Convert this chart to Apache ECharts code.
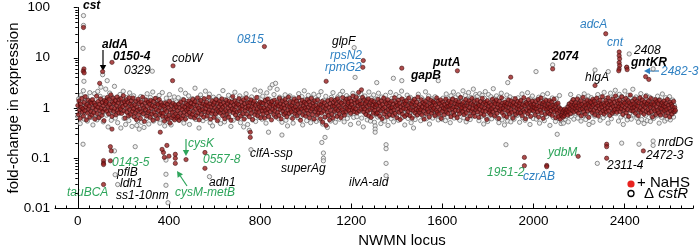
<!DOCTYPE html>
<html>
<head>
<meta charset="utf-8">
<script src="https://cdn.jsdelivr.net/npm/echarts@6/dist/echarts.min.js"></script>
<style>
html, body { margin: 0; padding: 0; background: #fff; }
#chart { width: 700px; height: 251px; }
</style>
</head>
<body>
<div id="chart"></div>
<script>
// band genes are listed in locus order: first locus and spacing
const nahsStart = 0
const nahsStep = 2.5
const cstrStart = 0
const cstrStep = 3.5

// + NaHS fold-change along the chromosome
const nahsBand = [
  1.12,0.74,1.38,0.91,0.62,1.21,1.03,1.55,0.83,0.97,0.69,1.29,0.88,1.68,1.06,0.58,1.17,0.79,1.44,0.95,1.09,0.66,1.33,0.86,1.24,
  0.72,1.47,1.01,0.81,1.26,0.6,1.14,0.93,1.72,0.77,1.05,1.36,0.64,1.19,0.89,1.52,0.99,0.71,1.28,0.84,1.11,0.56,1.41,0.94,1.23,
  1.35,0.87,1.62,1.08,0.76,1.49,1.18,0.92,1.83,1.02,0.68,1.31,1.57,0.85,1.22,0.98,1.4,0.73,1.12,1.66,0.9,1.27,0.8,1.45,1.04,
  0.96,1.53,0.78,1.25,1.07,1.76,0.88,1.34,0.63,1.15,1.46,0.82,1.01,1.29,0.7,1.6,0.93,1.2,0.75,1.39,1.1,0.86,1.58,0.97,0.67,
  1.16,0.8,1.37,0.59,1.04,0.9,1.5,0.73,1.23,0.95,0.62,1.32,0.84,1.13,1.64,0.77,1.0,0.54,1.26,0.92,1.43,0.69,1.08,0.81,1.3,
  0.87,1.19,0.65,1.42,0.99,0.76,1.11,0.57,1.35,0.83,1.06,1.55,0.71,0.94,1.22,0.61,1.17,0.89,1.47,0.74,1.02,1.28,0.8,1.14,0.68,
  0.79,1.08,0.55,0.93,1.27,0.66,0.85,1.18,0.6,1.03,0.72,1.36,0.5,0.91,1.12,0.64,0.82,1.24,0.7,0.97,0.58,1.15,0.77,1.05,0.63,
  0.88,0.68,1.2,0.57,1.01,0.78,1.32,0.62,0.94,1.1,0.7,1.45,0.83,1.04,0.6,1.23,0.9,0.74,1.16,0.96,1.38,0.81,1.07,0.67,1.26,
  1.03,0.75,1.48,0.86,1.19,0.63,1.34,0.95,0.71,1.12,1.59,0.8,1.0,0.58,1.27,0.89,1.41,0.73,1.09,0.92,1.21,0.66,1.53,0.84,1.14,
  0.97,1.31,0.69,1.1,0.82,1.63,0.91,1.2,0.6,1.05,0.78,1.39,0.87,1.16,0.65,1.29,1.02,0.76,1.47,0.93,0.56,1.24,0.85,1.07,1.35,
  0.79,1.18,0.94,1.52,0.7,1.04,1.27,0.83,0.61,1.13,0.9,1.43,0.74,1.22,0.99,0.66,1.36,0.86,1.09,0.57,1.3,0.96,1.69,0.8,1.15,
  0.92,1.4,0.72,1.06,1.25,0.84,0.62,1.17,1.54,0.88,1.02,0.69,1.33,0.95,1.11,0.77,1.46,0.6,1.21,0.89,1.03,1.58,0.75,1.28,0.98,
  1.1,0.67,1.3,0.91,1.45,0.8,1.07,0.59,1.23,0.97,1.37,0.73,1.14,0.86,1.62,0.95,0.7,1.19,0.83,1.05,1.32,0.64,1.0,1.26,0.88,
  0.76,1.24,1.01,0.63,1.41,0.9,1.16,0.79,1.51,0.96,0.68,1.29,1.08,0.85,1.2,0.58,1.35,0.93,1.12,0.74,1.44,0.87,1.04,0.66,1.18,
  1.31,0.82,1.09,0.71,1.56,0.94,1.22,0.61,1.03,1.38,0.86,1.15,0.75,0.99,1.48,0.8,1.27,0.67,1.11,0.9,1.65,0.78,1.06,1.34,0.92,
  0.84,1.13,0.62,1.28,0.98,1.5,0.77,1.06,0.89,1.36,0.7,1.19,0.93,1.6,0.81,1.02,0.57,1.25,0.96,1.42,0.73,1.1,0.87,1.3,1.0,
  0.69,1.21,0.91,1.47,0.78,1.04,1.33,0.64,1.15,0.88,1.55,0.97,0.74,1.26,1.07,0.6,1.39,0.85,1.12,0.95,0.72,1.44,1.01,0.8,1.18,
  0.93,0.61,1.16,0.79,1.35,0.52,1.05,0.87,1.27,0.66,0.98,0.45,1.13,0.82,1.4,0.71,1.02,0.58,1.22,0.9,1.48,0.75,1.09,0.63,1.3,
  1.07,0.86,1.42,0.95,1.2,0.68,1.53,0.89,1.11,0.77,1.34,1.0,0.64,1.25,0.92,1.61,0.81,1.14,0.72,1.37,1.03,0.85,1.5,0.96,1.19,
  1.28,0.9,1.55,1.06,0.78,1.37,1.16,0.93,1.74,1.02,0.84,1.44,1.24,0.97,1.63,0.8,1.31,1.1,2.05,0.88,1.4,1.18,0.95,2.3,1.21,
  1.62,1.04,0.83,1.45,0.96,1.23,0.74,1.35,1.08,0.87,1.52,0.7,1.15,0.92,1.29,0.65,1.41,0.99,1.12,0.79,1.33,0.9,1.06,1.2,0.76,
  1.14,0.8,1.49,0.94,1.27,0.69,1.09,0.88,1.38,0.61,1.17,0.97,1.58,0.76,1.03,1.32,0.85,1.21,0.67,1.46,0.92,1.1,0.73,1.26,1.0,
  0.86,1.36,1.02,0.71,1.19,0.91,1.6,0.78,1.08,1.3,0.64,1.13,0.95,1.43,0.82,1.24,0.59,1.05,0.89,1.52,0.75,1.16,0.98,1.34,0.68,
  1.22,0.96,1.4,0.74,1.11,0.85,1.57,1.0,0.7,1.26,0.92,1.19,0.63,1.35,0.88,1.07,1.48,0.8,1.14,0.94,1.3,0.72,1.65,0.9,1.04,
  0.81,1.17,0.93,1.46,0.73,1.06,1.28,0.87,0.6,1.2,1.01,1.37,0.77,1.12,0.95,1.54,0.84,0.66,1.24,1.03,1.42,0.79,1.09,0.91,1.33,
  0.98,1.27,0.7,1.14,0.89,1.59,0.82,1.05,1.36,0.75,1.21,0.93,1.45,0.62,1.1,0.86,1.3,1.0,0.73,1.18,0.95,1.5,0.84,1.07,1.25,
  0.78,1.09,1.38,0.92,1.16,0.67,1.29,0.97,1.51,0.81,1.04,0.72,1.23,0.9,1.41,1.06,0.64,1.18,0.88,1.33,0.76,1.12,1.62,0.94,1.02,
  1.19,0.85,1.31,0.74,1.08,0.96,1.47,0.8,1.13,0.61,1.26,0.91,1.39,1.01,0.7,1.22,0.87,1.55,0.97,1.15,0.79,1.36,0.68,1.1,0.93,
  1.04,1.43,0.83,1.2,0.65,1.12,0.94,1.34,0.77,1.06,1.56,0.88,1.24,0.72,1.0,1.3,0.86,1.17,0.59,1.4,0.95,1.09,0.81,1.27,0.9,
  0.73,1.15,0.97,1.5,0.84,1.07,1.32,0.69,1.21,0.92,1.44,0.78,1.03,1.18,0.62,1.36,0.89,1.11,0.96,1.6,0.8,1.25,0.99,0.71,1.14,
  1.3,0.91,1.09,0.66,1.23,0.86,1.45,1.02,0.76,1.17,0.93,1.38,0.82,1.13,0.63,1.28,1.05,0.87,1.53,0.74,1.19,0.98,1.34,0.8,1.08,
  0.95,1.26,0.79,1.41,1.03,0.7,1.16,0.89,1.6,0.83,1.11,0.61,1.29,0.94,1.2,0.77,1.47,1.0,0.86,1.24,0.68,1.14,0.92,1.37,1.06,
  0.88,1.18,1.01,0.73,1.35,0.96,1.12,0.84,1.48,0.66,1.07,1.27,0.9,1.58,0.8,1.04,1.22,0.62,1.31,0.97,1.15,0.75,1.42,0.93,1.1,
  0.82,1.21,0.99,1.4,0.76,1.05,0.89,1.3,0.71,1.13,0.94,1.5,0.85,1.08,0.64,1.19,0.91,0.78,1.25,0.67,1.02,0.87,0.6,0.95,0.72,
  0.72,0.83,0.66,0.9,0.7,0.95,0.78,0.86,0.81,0.92,0.72,1.06,0.85,1.2,0.96,0.77,1.13,1.32,0.9,1.04,1.47,0.83,1.17,0.99,1.28,
  1.09,0.87,1.52,1.0,0.79,1.24,1.12,0.93,1.39,0.7,1.18,0.96,1.63,0.84,1.07,1.3,0.75,1.15,0.98,1.44,0.88,1.21,0.65,1.1,1.35,
  0.92,1.29,1.05,0.81,1.48,1.14,0.9,1.36,0.73,1.2,1.01,1.57,0.86,1.11,0.69,1.27,0.97,1.43,0.8,1.17,1.04,1.68,0.89,1.23,0.76,
  1.13,0.95,1.41,0.83,1.25,1.02,1.6,0.88,1.16,0.71,1.34,0.99,1.2,0.79,1.5,1.07,0.86,1.3,0.93,1.74,1.1,0.82,1.39,0.96,1.22,
  1.06,1.45,0.85,1.19,0.97,1.66,1.12,0.74,1.33,0.91,1.24,1.02,1.55,0.8,1.15,0.94,1.4,0.68,1.27,1.08,1.81,0.89,1.17,0.99,1.36,
  0.87,1.21,1.04,1.52,0.78,1.14,0.95,1.37,1.09,0.7,1.28,0.9,1.6,1.01,0.82,1.23,1.45,0.92,1.11,0.75,1.32,1.03,1.7,0.86,1.18,
  1.25,0.93,1.4,0.79,1.12,1.02,1.56,0.84,1.2,0.66,1.3,0.97,1.15,0.88,1.47,0.74,1.07,1.34,0.9,1.22,0.8,1.43,1.0,0.72,1.16,
  0.96,1.27,0.82,1.1,1.38,0.89,1.05,0.7,1.23,0.94,1.49,0.8,1.14,0.99,0.66,1.31,0.87,1.19,0.76,1.08,0.92,1.35,0.84,1.02,0.9
]

// ΔcstR fold-change along the chromosome
const cstrBand = [
  0.68,1.52,0.94,0.49,1.81,1.13,0.77,2.21,0.6,1.34,0.88,1.66,0.55,1.2,0.83,2.02,0.65,1.43,1.0,0.46,1.27,1.93,0.74,1.08,0.58,
  2.14,1.04,0.66,1.71,2.6,0.82,1.31,0.53,1.58,0.97,2.38,0.72,1.45,0.42,1.16,1.98,0.87,0.57,1.65,1.23,0.78,2.7,0.63,1.37,0.92,
  0.51,1.48,0.79,1.86,0.4,1.18,0.9,2.16,0.62,1.33,0.47,1.6,0.84,1.06,0.56,2.0,0.71,1.39,0.43,1.01,1.75,0.67,1.28,0.86,0.45,
  0.56,1.36,0.38,0.85,1.69,0.52,1.15,0.76,0.41,1.49,0.93,0.61,1.92,0.81,0.48,1.24,1.62,0.69,0.98,2.08,0.55,1.3,0.78,1.55,0.64,
  1.42,0.73,1.78,0.5,1.09,0.87,2.03,0.6,1.26,0.44,1.0,1.57,0.68,1.17,0.53,1.85,0.82,0.46,1.38,0.93,0.62,1.66,1.05,0.71,1.32,
  0.8,1.6,0.57,1.21,2.3,0.7,0.91,1.48,0.5,1.1,1.96,0.64,1.35,0.85,1.74,0.47,1.25,0.97,0.66,1.53,0.77,1.14,2.48,0.59,1.44,
  0.67,1.3,0.4,0.93,1.82,0.77,1.56,0.56,1.19,0.86,2.17,0.62,1.4,0.73,1.07,1.89,0.51,1.26,0.89,0.44,1.64,1.01,0.69,1.5,0.83,
  1.22,0.6,1.7,0.88,0.49,1.37,1.03,2.22,0.72,0.53,1.47,0.84,1.28,0.65,1.79,0.78,1.12,0.43,1.58,0.95,0.57,1.35,2.06,0.75,1.18,
  0.63,1.38,0.81,1.74,0.51,1.07,0.72,1.56,0.42,1.24,0.66,1.92,0.91,0.47,1.46,0.36,1.15,0.77,1.66,0.58,1.3,0.87,2.29,0.54,1.2,
  0.79,1.61,0.65,1.27,2.16,0.89,0.6,1.72,0.99,0.73,1.41,0.5,2.0,0.93,0.67,1.5,2.5,0.84,1.33,2.9,1.05,1.85,0.7,3.1,1.43,
  2.35,0.96,0.61,1.64,0.82,1.29,0.52,1.52,0.98,0.74,1.83,0.57,1.22,0.44,1.44,0.8,1.74,0.66,1.1,1.36,0.5,1.58,0.9,0.71,1.26,
  1.11,0.64,1.93,0.86,1.39,0.68,1.68,0.46,1.19,2.2,0.78,1.47,0.56,1.03,1.79,0.75,1.29,0.51,1.6,0.93,0.62,1.88,0.83,1.33,0.54,
  1.48,0.77,1.77,0.58,1.05,2.12,0.85,0.48,1.41,1.09,0.66,1.71,0.92,0.41,1.37,0.72,1.21,0.55,1.63,0.9,2.02,0.7,1.14,0.52,1.45,
  0.83,1.66,0.95,0.6,1.87,1.25,0.69,2.15,0.88,0.53,1.5,0.8,1.76,0.62,1.16,1.6,0.74,0.47,1.35,1.01,1.96,0.65,1.3,0.84,1.7,
  0.67,1.1,0.5,1.54,0.86,1.91,0.63,1.27,0.42,0.96,1.73,0.76,1.42,0.58,1.06,2.08,0.81,0.55,1.58,1.17,0.71,1.82,0.52,1.38,0.91,
  1.51,0.66,1.97,0.81,1.15,0.49,1.65,0.94,0.64,1.45,0.55,1.79,0.85,1.28,0.45,1.09,0.75,2.05,0.61,1.56,0.89,0.53,1.4,0.78,1.84,
  0.72,1.24,0.57,1.69,0.87,1.08,2.17,0.65,1.46,0.77,0.46,1.34,0.93,1.8,0.62,1.19,0.8,1.62,0.51,1.03,0.7,0.4,1.49,0.59,0.97,
  1.32,0.74,1.88,0.9,1.18,0.56,1.59,1.02,0.68,1.43,0.82,2.1,0.61,1.25,0.95,1.73,0.48,1.13,0.79,1.52,0.63,1.36,0.88,1.67,0.73,
  1.43,0.74,0.58,1.26,0.68,0.82,1.15,0.6,1.57,0.86,1.36,0.56,1.9,0.91,0.66,1.52,1.06,0.51,1.75,0.79,1.42,2.08,0.63,1.1,1.65,
  1.29,0.76,1.83,0.92,0.57,1.58,1.35,0.81,2.2,0.64,1.18,1.77,0.53,1.5,0.77,2.03,1.02,0.59,1.63,1.25,0.7,2.38,0.87,1.44,1.86,
  0.84,1.71,1.13,0.56,1.92,1.33,0.68,1.79,0.96,0.48,1.55,2.12,0.66,1.23,0.54,1.85,1.04,0.79,1.68,0.61,1.4,2.42,0.74,1.57,0.93,
  1.74,0.62,1.2,0.51,1.61,0.86,1.97,0.58,1.08,1.47,0.46,1.16,0.7,1.81,0.55,1.31,0.79,1.66,0.53,1.04,0.65,1.53,0.6,1.22,0.77,
  1.18,0.71,1.59,0.95,0.52,1.34,0.83,1.9,0.64,1.12,1.45,0.57,1.27,0.88,2.02,0.69,1.06,0.47,1.55,0.99,1.73,0.62,1.24,0.8,1.41,
  0.6,1.22,0.87,1.64,0.5,1.09,1.38,0.73,1.83,0.93,0.56,1.46,1.01,0.68,1.94,0.79,1.29,0.45,1.17,0.9,1.58,0.65,1.35,1.04,0.54,
  1.53,0.85,1.14,0.62,1.77,0.96,0.49,0.55,0.75,0.5,0.82,0.6,0.9,0.68,1.05,0.53,1.2,0.92,1.86,0.67,1.11,1.47,0.6,1.26,0.78,
  0.89,1.44,0.63,1.68,0.8,1.21,0.55,1.52,0.97,0.7,1.91,1.05,0.59,1.36,0.84,1.73,0.47,1.15,0.76,1.6,0.92,0.52,1.3,0.69,1.49,
  1.27,0.74,1.85,0.91,1.12,0.57,1.66,0.83,1.41,0.64,2.05,0.98,0.72,1.55,1.08,0.5,1.34,0.86,1.97,0.61,1.19,0.78,1.63,0.95,2.25,
  0.77,1.58,1.02,0.55,1.87,1.23,0.66,1.7,0.9,0.47,1.48,2.18,0.69,1.29,0.58,1.8,1.0,0.79,1.62,0.6,1.37,2.36,0.73,1.52,0.88,
  1.66,0.63,1.21,0.52,1.56,0.84,1.93,0.59,1.11,1.4,0.49,1.17,0.71,1.77,0.56,1.32,0.81,1.64,0.54,1.05,0.67,1.5,0.62,1.24,0.79,
  1.38,0.7,1.72,0.86,0.5,1.46,1.03,0.65,1.9,0.76,1.2,0.55,1.6,0.92,0.61,1.33,0.82,1.68,0.58,1.09,0.73,1.44,0.66,1.13,0.85
]

// genes far off the band: [locus, fold-change]
const nahsOutliers = [
  [25,40],[27,6.0],[24,5.4],[28,5.0],[109,5.3],[150,8.1],[96,3.1],[418,6.9],[416,3.5],[819,16.7],
  [1253,8.8],[1251,6.45],[1090,3.4],[1422,6.2],[1666,5.5],[2084,6.0],[2317,30],[2376,13],[2376,11],
  [2378,9.5],[2376,8],[2378,7],[2376,6],[2374,5.5],[2409,6.5],[2411,5.8],[2492,4.2],[2506,3.7],
  [2270,2.8],[1900,4.1],
  [113,0.03],[113,0.09],[113,0.08],[113,0.075],[143,0.089],[143,0.17],[147,0.14],[150,0.38],[362,0.33],
  [376,0.13],[380,0.104],[370,0.15],[391,0.18],[400,0.11],[428,0.079],[428,0.12],[428,0.1],[475,0.094],
  [558,0.13],[558,0.063],[757,0.26],[757,0.33],[1960,0.104],[1960,0.071],[2058,0.072],[2058,0.068],
  [2196,0.109],[2321,0.19],[2321,0.17],[2321,0.1],[2482,0.14]
]
const cstrOutliers = [
  [25,69],[25,44],[23,15.4],[27,3.4],[109,4.6],[129,3.5],[327,5.4],[1213,15.9],[1217,4.07],[1385,3.9],
  [1422,3.5],[1312,3.2],[1582,3.5],[2084,7.2],[2420,11.9],[2409,6.4],[2270,5.7],[2328,5.3],[2525,6.0],
  [2011,5.3],[1887,3.2],
  [23,0.19],[164,0.047],[175,0.03],[396,0.013],[387,0.029],[387,0.048],[387,0.092],[252,0.17],[161,0.14],
  [760,0.148],[837,0.33],[896,0.29],[1078,0.127],[1078,0.1],[1078,0.089],[1071,0.206],[1085,0.26],
  [1305,0.44],[1305,0.38],[1305,0.33],[1353,0.186],[1353,0.155],[1353,0.079],[1353,0.045],
  [2280,0.079],[2463,0.19],[2525,0.22],[2525,0.18],[2387,0.2],[2104,0.3],[1879,0.186],[578,0.043]
]

const xTicks = [0, 400, 800, 1200, 1600, 2000, 2400]
const yTicks = [0.01, 0.1, 1, 10, 100]

// gene labels: [text, left, middle-y, colour, bold]
const BLUE = '#2f80c2'
const GREEN = '#2ea55b'
const geneLabels = [
  ['cst', 83, 6, '#000', true], ['aldA', 102, 45, '#000', true], ['0150-4', 113, 57, '#000', true],
  ['0329', 124, 71, '#000', false], ['cobW', 172, 59, '#000', false], ['0815', 237, 40, BLUE, false],
  ['glpF', 332, 42, '#000', false], ['rpsN2', 330, 56, BLUE, false], ['rpmG2', 325, 68, BLUE, false],
  ['gapB', 411, 76, '#000', true], ['putA', 433, 63, '#000', true], ['2074', 552, 57, '#000', true],
  ['adcA', 580, 25, BLUE, false], ['cnt', 607, 43, BLUE, false], ['2408', 634, 51, '#000', false],
  ['gntKR', 631, 63, '#000', true], ['hlgA', 585, 78, '#000', false], ['2482-3', 661, 72, BLUE, false],
  ['0143-5', 112, 163, GREEN, false], ['pflB', 117, 173, '#000', false], ['ldh1', 120, 184, '#000', false],
  ['ss1-10nm', 116, 196, '#000', false], ['tauBCA', 67, 193, GREEN, false], ['cysK', 188, 144, GREEN, false],
  ['0557-8', 203, 160, GREEN, false], ['adh1', 209, 183, '#000', false], ['cysM-metB', 175, 193, GREEN, false],
  ['clfA-ssp', 250, 154, '#000', false], ['superAg', 281, 169, '#000', false], ['ilvA-ald', 349, 183, '#000', false],
  ['nrdDG', 658, 143, '#000', false], ['2472-3', 646, 156, '#000', false], ['2311-4', 607, 166, '#000', false],
  ['ydbM', 548, 153, GREEN, false], ['1951-2', 487, 173, GREEN, false], ['czrAB', 523, 177, BLUE, false]
]
// arrows: [x1, y1, x2 (tip), y2 (tip), colour]
const arrows = [
  [103, 50, 103, 71, '#000'],
  [186, 139, 186, 156, GREEN],
  [187, 186, 177, 171, GREEN],
  [659, 71, 644, 71, BLUE]
]

const chart = echarts.init(document.getElementById('chart'))

const bandPoints = (vals, start, step) => vals.map((v, i) => [start + i * step, v])

const xMinor = []
for (let v = -100; v <= 2700; v += 50) xMinor.push(v)
const yMinor = []
for (let d = 0.01; d < 100; d *= 10) {
  for (let k = 2; k <= 9; k++) yMinor.push(+(d * k).toPrecision(2))
}

const FONT = '"Liberation Sans", Arial, sans-serif'

const graphics = []
geneLabels.forEach(([t, x, y, c, b]) => {
  graphics.push({
    type: 'text', x: x, y: y, silent: true,
    style: { text: t, fill: c, font: 'italic ' + (b ? 'bold ' : '') + '12px ' + FONT, verticalAlign: 'middle' }
  })
})
arrows.forEach(([x1, y1, x2, y2, c]) => {
  const ang = Math.atan2(y2 - y1, x2 - x1)
  const L = 6, W = 3.2
  const bx = x2 - L * Math.cos(ang), by = y2 - L * Math.sin(ang)
  graphics.push({ type: 'line', silent: true, shape: { x1, y1, x2: bx, y2: by }, style: { stroke: c, lineWidth: 1.2 } })
  graphics.push({
    type: 'polygon', silent: true,
    shape: { points: [[x2, y2], [bx - W * Math.sin(ang), by + W * Math.cos(ang)], [bx + W * Math.sin(ang), by - W * Math.cos(ang)]] },
    style: { fill: c }
  })
})
// legend
graphics.push({ type: 'circle', silent: true, shape: { cx: 631, cy: 184, r: 3.6 }, style: { fill: '#e8231f' } })
graphics.push({ type: 'text', silent: true, x: 637, y: 183, style: { text: '+ NaHS', font: '15px ' + FONT, fill: '#000', verticalAlign: 'middle' } })
graphics.push({ type: 'circle', silent: true, shape: { cx: 631, cy: 193.5, r: 3 }, style: { fill: '#fff', stroke: '#000', lineWidth: 1.3 } })
graphics.push({
  type: 'text', silent: true, x: 644, y: 194,
  style: {
    text: '{a|Δ }{b|cstR}', verticalAlign: 'middle',
    rich: { a: { font: '15px ' + FONT, fill: '#000' }, b: { font: 'italic 15px ' + FONT, fill: '#000' } }
  }
})
// axis titles
graphics.push({ type: 'text', silent: true, x: 402, y: 241, style: { text: 'NWMN locus', font: '15px ' + FONT, fill: '#000', align: 'center', verticalAlign: 'middle' } })
graphics.push({ type: 'text', silent: true, x: 14, y: 108, rotation: Math.PI / 2, style: { text: 'fold-change in expression', font: '15px ' + FONT, fill: '#000', align: 'center', verticalAlign: 'middle' } })

const option = {
  animation: false,
  grid: { left: 55, right: 7, top: 7.5, bottom: 42.5, containLabel: false, outerBoundsMode: 'none' },
  xAxis: [{
    type: 'value', min: -100, max: 2700,
    axisLine: { lineStyle: { color: '#000', width: 1 } },
    axisTick: { inside: true, length: 5, customValues: xTicks, lineStyle: { color: '#000' } },
    axisLabel: { customValues: xTicks, color: '#000', fontSize: 13.5, fontFamily: FONT, margin: 6, formatter: v => String(v) },
    splitLine: { show: false }
  }, {
    type: 'value', min: -100, max: 2700, position: 'bottom',
    axisLine: { show: false },
    axisTick: { inside: true, length: 3, customValues: xMinor, lineStyle: { color: '#000' } },
    axisLabel: { show: false },
    splitLine: { show: false }
  }],
  yAxis: [{
    type: 'log', logBase: 10, min: 0.01, max: 100,
    axisLine: { show: true, lineStyle: { color: '#000', width: 1 } },
    axisTick: { length: 4, customValues: yTicks, lineStyle: { color: '#000' } },
    axisLabel: { customValues: yTicks, color: '#000', fontSize: 13.5, fontFamily: FONT, margin: 5 },
    splitLine: { show: false }
  }, {
    type: 'log', logBase: 10, min: 0.01, max: 100, position: 'left',
    axisLine: { show: false },
    axisTick: { length: 2.5, customValues: yMinor, lineStyle: { color: '#000' } },
    axisLabel: { show: false },
    splitLine: { show: false }
  }],
  series: [{
    name: 'ΔcstR', type: 'scatter', xAxisIndex: 0, yAxisIndex: 0,
    symbolSize: 4.3, progressive: 0, silent: true,
    itemStyle: { color: '#ececec', borderColor: '#666', borderWidth: 0.9 },
    data: bandPoints(cstrBand, cstrStart, cstrStep).concat(cstrOutliers)
  }, {
    name: '+ NaHS', type: 'scatter', xAxisIndex: 0, yAxisIndex: 0,
    symbolSize: 4.3, progressive: 0, silent: true,
    itemStyle: { color: '#9a1e1e', borderColor: '#3b0b0b', borderWidth: 0.7 },
    data: bandPoints(nahsBand, nahsStart, nahsStep).concat(nahsOutliers)
  }],
  graphic: graphics
}
chart.setOption(option)
</script>
</body>
</html>
